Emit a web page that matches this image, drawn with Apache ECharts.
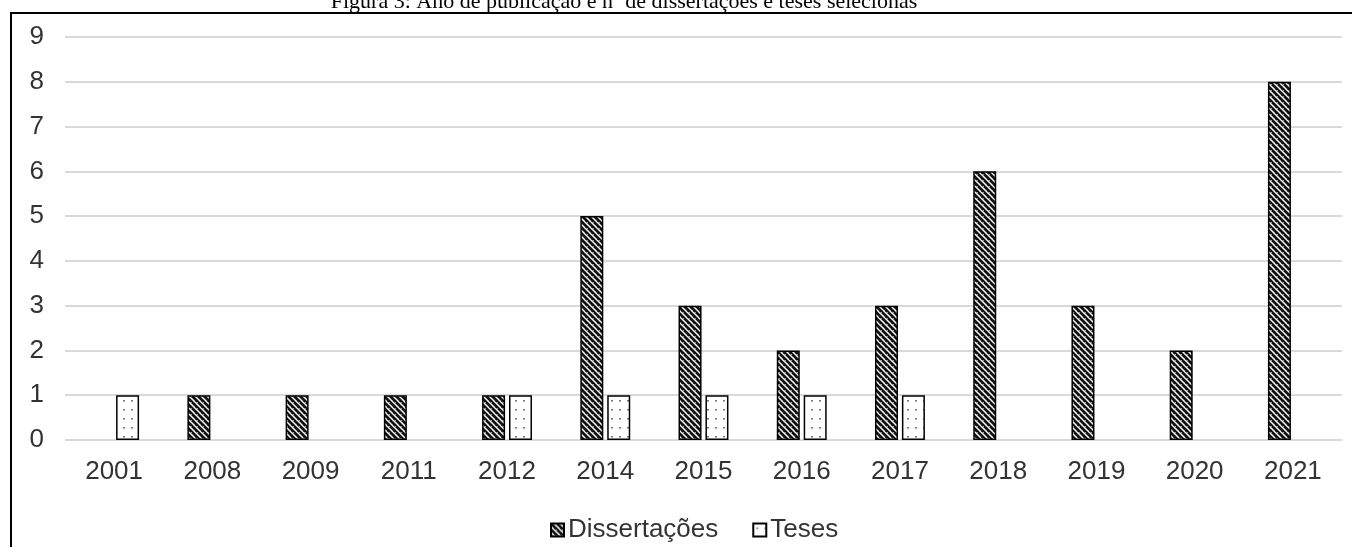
<!DOCTYPE html>
<html>
<head>
<meta charset="utf-8">
<script src="https://cdn.jsdelivr.net/npm/echarts@6/dist/echarts.min.js"></script>
<style>
html,body{margin:0;padding:0;background:#fff;}
#chart{width:1352px;height:547px;}
</style>
</head>
<body>
<div id="chart"></div>
<script>
const titleText = 'Figura 3: Ano de publicação e nº de dissertações e teses selecionas';
const categories = ['2001','2008','2009','2011','2012','2014','2015','2016','2017','2018','2019','2020','2021'];
const dissertacoes = [0,1,1,1,1,5,3,2,3,6,3,2,8];
const teses = [1,0,0,0,1,1,1,1,1,0,0,0,0];
const yTicks = [0,1,2,3,4,5,6,7,8,9];

function stripePattern(){
  const c = document.createElement('canvas');
  c.width = 6; c.height = 6;
  const ctx = c.getContext('2d');
  ctx.fillStyle = '#111111';
  ctx.fillRect(0,0,6,6);
  ctx.strokeStyle = '#ffffff';
  ctx.lineWidth = 1.5;
  ctx.beginPath();
  ctx.moveTo(-3,0); ctx.lineTo(3,6);
  ctx.moveTo(0,-3); ctx.lineTo(9,6);
  ctx.moveTo(3,-3); ctx.lineTo(9,3);
  ctx.stroke();
  return c;
}
function dotPattern(){
  const c = document.createElement('canvas');
  c.width = 8; c.height = 9;
  const ctx = c.getContext('2d');
  ctx.fillStyle = '#ffffff';
  ctx.fillRect(0,0,8,9);
  ctx.fillStyle = '#777777';
  ctx.fillRect(3,4,2,1.5);
  return c;
}
const hideZero = v => (v === 0 ? '-' : v);

const chart = echarts.init(document.getElementById('chart'), null, {renderer:'canvas'});
const labelColor = '#333333';
const sans = '"Liberation Sans", Arial, sans-serif';
chart.setOption({
  animation: false,
  backgroundColor: '#ffffff',
  graphic: [
    {type:'text', x: 624, y: 13, style:{text: titleText, font: '22px "Liberation Serif", "Times New Roman", serif', fill:'#000', align:'center', verticalAlign:'bottom'}, z: 10},
    {type:'rect', shape:{x:0, y:12, width:1352, height:2}, style:{fill:'#fff'}, z:11, silent:true},
    {type:'line', shape:{x1:10, y1:13, x2:1352, y2:13}, style:{stroke:'#000', lineWidth:2}, z:12},
    {type:'line', shape:{x1:11, y1:13, x2:11, y2:547}, style:{stroke:'#000', lineWidth:2}, z:12}
  ],
  grid: {left: 65, right: 10, top: 37, bottom: 107, containLabel: false},
  legend: {
    data: ['Dissertações','Teses'],
    bottom: -1,
    left: 545,
    itemWidth: 13,
    itemHeight: 13,
    itemGap: 34,
    icon: 'rect',
    textStyle: {fontFamily: sans, fontSize: 26, color: labelColor, padding:[0,0,0,-1]}
  },
  xAxis: {
    type: 'category',
    data: categories,
    axisLine: {show: false},
    axisTick: {show: false},
    axisLabel: {fontFamily: sans, fontSize: 26, color: labelColor, margin: 19}
  },
  yAxis: {
    type: 'value',
    min: 0, max: 9, interval: 1,
    axisLine: {show: false},
    axisTick: {show: false},
    axisLabel: {fontFamily: sans, fontSize: 26, color: labelColor, margin: 21,
      formatter: v => yTicks.includes(v) ? String(v) : ''},
    splitLine: {lineStyle: {color: '#d9d9d9', width: 2}}
  },
  series: [
    {
      name: 'Dissertações', type: 'bar', data: dissertacoes.map(hideZero),
      barWidth: 23, barGap: '17%',
      itemStyle: {color: {image: stripePattern(), repeat: 'repeat'}, borderColor: '#000', borderWidth: 1.5},
      emphasis: {disabled: true}
    },
    {
      name: 'Teses', type: 'bar', data: teses.map(hideZero),
      barWidth: 23,
      itemStyle: {color: {image: dotPattern(), repeat: 'repeat'}, borderColor: '#000', borderWidth: 1.5},
      emphasis: {disabled: true}
    }
  ]
});
</script>
</body>
</html>
